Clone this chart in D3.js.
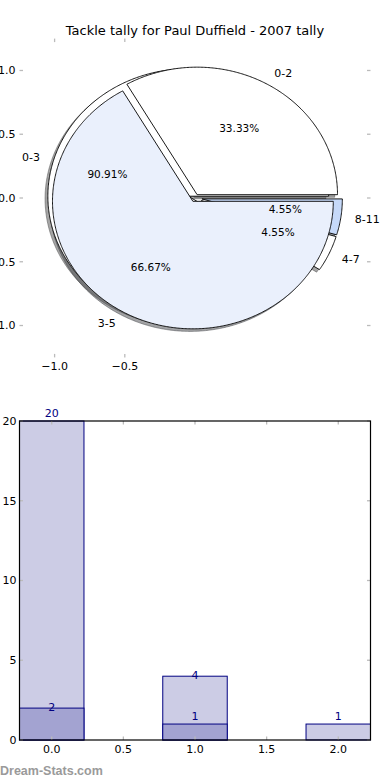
<!DOCTYPE html>
<html>
<head>
<meta charset="utf-8">
<script src="https://cdn.jsdelivr.net/npm/d3@7/dist/d3.min.js"></script>
<style>
  html, body { margin: 0; padding: 0; background: #fff; }
  svg { display: block; font-family: "DejaVu Sans", sans-serif; }
</style>
</head>
<body>
<svg id="chart" width="390" height="780"></svg>
<script>
// ---------- data ----------
const chartTitle = "Tackle tally for Paul Duffield - 2007 tally";
const pieALabels = ["0-3", "4-7", "8-11"];
const pieAValues = [20, 1, 1];
const pieBLabels = ["0-2", "3-5"];
const pieBValues = [1, 2];
const pieXTicks = [-1.0, -0.5];
const pieYTicks = [1.0, 0.5, 0.0, -0.5, -1.0];

const barPositions = [0, 1, 2];
const barLightValues = [20, 4, 1];
const barDarkValues = [2, 1, 0];
const barXTicks = [0, 0.5, 1.0, 1.5, 2.0];
const barYTicks = [0, 5, 10, 15, 20];
const watermark = "Dream-Stats.com";

// ---------- styles ----------
const pieAColors = ["#ffffff", "#ffffff", "#c6d9f9"];
const pieBColors = ["#ffffff", "#eaf0fc"];
const pieAExplode = 0.05, pieBExplode = 0.03;
const lightFill = "#ccccE5", darkFill = "#a3a3d1", barEdge = "#000080";
const tickGrey = "#bbbbbb";

const svg = d3.select("#chart");

// ---------- title ----------
svg.append("text").attr("x", 195).attr("y", 35).attr("text-anchor", "middle")
  .attr("font-size", 13).attr("fill", "#000").text(chartTitle);

// ---------- pie axes ----------
const pL = 19.5, pR = 370.5, pT = 38.6, pB = 357.4;
const xs = d3.scaleLinear().domain([-1.25, 1.25]).range([pL, pR]);
const ys = d3.scaleLinear().domain([-1.25, 1.25]).range([pB, pT]);

const pieG = svg.append("g");
const tickLen = 3.5;
// y ticks (left & right, inside)
pieYTicks.forEach(v => {
  const y = ys(v);
  pieG.append("line").attr("x1", pL).attr("x2", pL + tickLen).attr("y1", y).attr("y2", y)
    .attr("stroke", tickGrey).attr("stroke-width", 1.3);
  pieG.append("line").attr("x1", pR - tickLen).attr("x2", pR).attr("y1", y).attr("y2", y)
    .attr("stroke", tickGrey).attr("stroke-width", 1.3);
  pieG.append("text").attr("x", pL - 4).attr("y", y).attr("dy", "0.35em")
    .attr("text-anchor", "end").attr("font-size", 11).text(d3.format(".1f")(v).replace("-", "\u2212"));
});
// x ticks (top & bottom, inside)
pieXTicks.forEach(v => {
  const x = xs(v);
  pieG.append("line").attr("x1", x).attr("x2", x).attr("y1", pT).attr("y2", pT + tickLen)
    .attr("stroke", tickGrey).attr("stroke-width", 1.3);
  pieG.append("line").attr("x1", x).attr("x2", x).attr("y1", pB - tickLen).attr("y2", pB)
    .attr("stroke", tickGrey).attr("stroke-width", 1.3);
  pieG.append("text").attr("x", x).attr("y", pB + 9).attr("dy", "0.35em")
    .attr("text-anchor", "middle").attr("font-size", 11).text(d3.format(".1f")(v).replace("-", "\u2212"));
});

// pie layout: matplotlib style, start at 3 o'clock, counter-clockwise
const pieGen = d3.pie().sort(null).startAngle(Math.PI / 2).endAngle(Math.PI / 2 - 2 * Math.PI);
function buildSlices(values, labels, colors, explode) {
  return pieGen(values).map((a, i) => {
    const t0 = Math.PI / 2 - a.startAngle, t1 = Math.PI / 2 - a.endAngle;
    const tm = (t0 + t1) / 2;
    const ox = explode * Math.cos(tm), oy = explode * Math.sin(tm);
    const pts = [[ox, oy]];
    const n = Math.max(4, Math.ceil(Math.abs(t1 - t0) / 0.01));
    for (let k = 0; k <= n; k++) {
      const t = t0 + (t1 - t0) * k / n;
      pts.push([ox + Math.cos(t), oy + Math.sin(t)]);
    }
    const total = d3.sum(values);
    return { pts, tm, ox, oy, color: colors[i], label: labels[i], pct: (100 * a.value / total).toFixed(2) + "%" };
  });
}
const slicesA = buildSlices(pieAValues, pieALabels, pieAColors, pieAExplode);
const slicesB = buildSlices(pieBValues, pieBLabels, pieBColors, pieBExplode);

const lineGen = d3.line().x(d => xs(d[0])).y(d => ys(d[1]));
const shadowGen = d3.line().x(d => xs(d[0] - 0.02)).y(d => ys(d[1] - 0.02));

function shade(c) {
  const r = d3.rgb(c);
  return d3.rgb(r.r * 0.3, r.g * 0.3, r.b * 0.3).toString();
}
// shadows below all wedges
[...slicesA, ...slicesB].forEach(s => {
  pieG.append("path").attr("d", shadowGen(s.pts) + "Z")
    .attr("fill", shade(s.color)).attr("stroke", shade(s.color))
    .attr("fill-opacity", 0.5).attr("stroke-opacity", 0.5).attr("stroke-width", 1);
});
[...slicesA, ...slicesB].forEach(s => {
  pieG.append("path").attr("d", lineGen(s.pts) + "Z")
    .attr("fill", s.color).attr("stroke", "#000").attr("stroke-width", 0.9)
    .attr("stroke-linejoin", "miter");
});
// labels
[...slicesA, ...slicesB].forEach(s => {
  const lx = s.ox + 1.1 * Math.cos(s.tm), ly = s.oy + 1.1 * Math.sin(s.tm);
  pieG.append("text").attr("x", xs(lx)).attr("y", ys(ly)).attr("dy", "0.35em")
    .attr("text-anchor", lx > 0 ? "start" : "end").attr("font-size", 11).text(s.label);
  const px = s.ox + 0.6 * Math.cos(s.tm), py = s.oy + 0.6 * Math.sin(s.tm);
  pieG.append("text").attr("x", xs(px)).attr("y", ys(py)).attr("dy", "0.35em")
    .attr("text-anchor", "middle").attr("font-size", 10.5).text(s.pct);
});

// ---------- bar axes ----------
const bL = 19.5, bR = 370.5, bT = 421, bB = 740;
const bx = d3.scaleLinear().domain([-0.225, 2.225]).range([bL, bR]);
const by = d3.scaleLinear().domain([0, 20]).range([bB, bT]);
const barW = 0.45;
const barG = svg.append("g");

function drawBars(values, fill) {
  barG.selectAll(null).data(barPositions).enter().append("rect")
    .attr("x", (d) => bx(d - barW / 2))
    .attr("width", (d) => bx(d + barW / 2) - bx(d - barW / 2))
    .attr("y", (d, i) => by(values[i]))
    .attr("height", (d, i) => by(0) - by(values[i]))
    .attr("fill", fill).attr("stroke", barEdge).attr("stroke-width", 1);
}
drawBars(barLightValues, lightFill);
drawBars(barDarkValues, darkFill);

// ticks
barXTicks.forEach(v => {
  const x = bx(v);
  barG.append("line").attr("x1", x).attr("x2", x).attr("y1", bT).attr("y2", bT + tickLen)
    .attr("stroke", tickGrey).attr("stroke-width", 1.3);
  barG.append("line").attr("x1", x).attr("x2", x).attr("y1", bB - tickLen).attr("y2", bB)
    .attr("stroke", tickGrey).attr("stroke-width", 1.3);
  barG.append("text").attr("x", x).attr("y", bB + 9).attr("dy", "0.35em")
    .attr("text-anchor", "middle").attr("font-size", 11).text(d3.format(".1f")(v));
});
barYTicks.forEach(v => {
  const y = by(v);
  barG.append("line").attr("x1", bL).attr("x2", bL + tickLen).attr("y1", y).attr("y2", y)
    .attr("stroke", tickGrey).attr("stroke-width", 1.3);
  barG.append("line").attr("x1", bR - tickLen).attr("x2", bR).attr("y1", y).attr("y2", y)
    .attr("stroke", tickGrey).attr("stroke-width", 1.3);
  barG.append("text").attr("x", bL - 3).attr("y", y).attr("dy", "0.35em")
    .attr("text-anchor", "end").attr("font-size", 11).text(v);
});
// frame
barG.append("rect").attr("x", bL).attr("y", bT).attr("width", bR - bL).attr("height", bB - bT)
  .attr("fill", "none").attr("stroke", "#000").attr("stroke-width", 1.2);

// value labels
function drawLabels(values, liftFn) {
  values.forEach((v, i) => {
    if (v <= 0) return;
    barG.append("text").attr("x", bx(barPositions[i])).attr("y", by(v) - liftFn(i)).attr("dy", "0.35em")
      .attr("text-anchor", "middle").attr("font-size", 11).attr("fill", barEdge).text(v);
  });
}
drawLabels(barLightValues, i => (i === 1 ? 1 : 8));
drawLabels(barDarkValues, i => (i === 0 ? 1 : 8));

// watermark
svg.append("text").attr("x", 0).attr("y", 775).attr("font-family", "'Liberation Sans', Arial, sans-serif")
  .attr("font-weight", "bold").attr("font-size", 12.5).attr("fill", "#9a9a9a").text(watermark);
</script>
</body>
</html>
